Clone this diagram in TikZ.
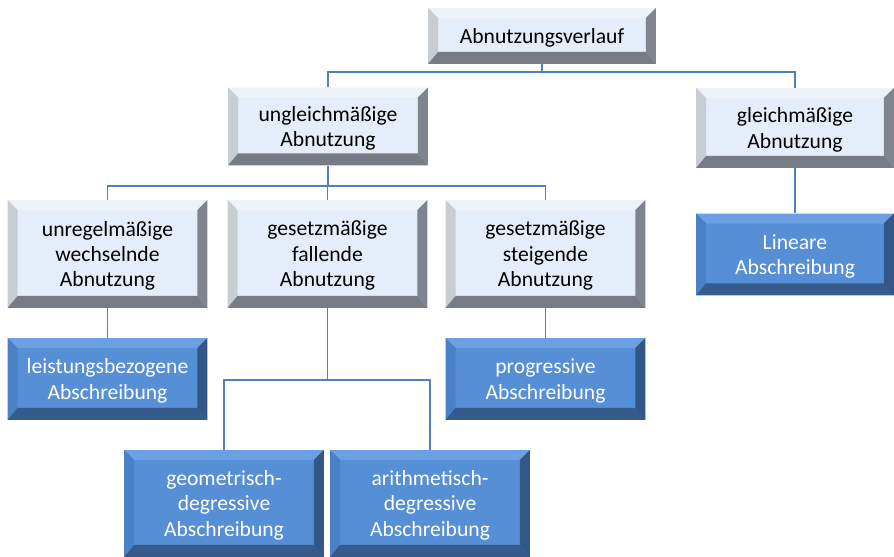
\documentclass[tikz,border=0pt]{standalone}
\usepackage{fontspec}
\setmainfont{Carlito}
\usepackage{xcolor}
\usepackage{tikz}
\definecolor{linkblue}{RGB}{79,129,189}
\definecolor{paleface}{RGB}{228,238,250}
\definecolor{paletop}{RGB}{238,242,247}
\definecolor{paleleft}{RGB}{200,205,212}
\definecolor{paleright}{RGB}{128,132,142}
\definecolor{palebottom}{RGB}{118,123,133}
\definecolor{deepface}{RGB}{86,143,214}
\definecolor{deeptop}{RGB}{108,160,226}
\definecolor{deepleft}{RGB}{74,128,198}
\definecolor{deepright}{RGB}{50,86,136}
\definecolor{deepbottom}{RGB}{54,90,140}
\def\bevw{0.2cm}
\def\bevb{0.24cm}
% bevel frame: top, left, right, bottom
\newcommand{\bevelframe}[4]{%
  \fill[#1] (path picture bounding box.north west) -- (path picture bounding box.north east)
    -- ([shift={(-\bevw,-\bevw)}]path picture bounding box.north east)
    -- ([shift={(\bevw,-\bevw)}]path picture bounding box.north west) -- cycle;
  \fill[#2] (path picture bounding box.north west) -- ([shift={(\bevw,-\bevw)}]path picture bounding box.north west)
    -- ([shift={(\bevw,\bevb)}]path picture bounding box.south west)
    -- (path picture bounding box.south west) -- cycle;
  \fill[#3] (path picture bounding box.north east) -- ([shift={(-\bevw,-\bevw)}]path picture bounding box.north east)
    -- ([shift={(-\bevw,\bevb)}]path picture bounding box.south east)
    -- (path picture bounding box.south east) -- cycle;
  \fill[#4] (path picture bounding box.south west) -- ([shift={(\bevw,\bevb)}]path picture bounding box.south west)
    -- ([shift={(-\bevw,\bevb)}]path picture bounding box.south east)
    -- (path picture bounding box.south east) -- cycle;
}

\begin{document}
\begin{tikzpicture}[x=0.02cm, y=-0.02cm,
  every node/.style={font=\fontsize{12.3}{14.5}\selectfont, align=center, inner sep=0pt, text depth=0pt},
  palebox/.style={fill=paleface, text=black, path picture={\bevelframe{paletop}{paleleft}{paleright}{palebottom}}},
  deepbox/.style={fill=deepface, text=white, path picture={\bevelframe{deeptop}{deepleft}{deepright}{deepbottom}}},
  conn/.style={draw=linkblue, line width=1.1pt}]
\useasboundingbox (0,0) rectangle (894,557);

% level 1 and 2
\node[palebox, minimum width=4.56cm, minimum height=1.12cm] (verlauf) at (542,36) {Abnutzungsverlauf};
\node[palebox, minimum width=4cm, minimum height=1.56cm] (ungleich) at (328,126.5) {ungleichmäßige\\Abnutzung};
\node[palebox, minimum width=3.96cm, minimum height=1.6cm] (gleich) at (795,128) {gleichmäßige\\Abnutzung};

% level 3
\node[palebox, minimum width=4cm, minimum height=2.16cm] (unregel) at (107.5,254) {unregelmäßige\\wechselnde\\Abnutzung};
\node[palebox, minimum width=4cm, minimum height=2.16cm] (fallend) at (327.5,254) {gesetzmäßige\\fallende\\Abnutzung};
\node[palebox, minimum width=4cm, minimum height=2.16cm] (steigend) at (545.5,254) {gesetzmäßige\\steigende\\Abnutzung};
\node[deepbox, minimum width=3.96cm, minimum height=1.64cm] (linear) at (795,254.5) {Lineare\\Abschreibung};

% methods
\node[deepbox, minimum width=4cm, minimum height=1.64cm] (leistung) at (107.5,379) {leistungsbezogene\\Abschreibung};
\node[deepbox, minimum width=4cm, minimum height=1.64cm] (progressiv) at (545.5,379) {progressive\\Abschreibung};
\node[deepbox, minimum width=4cm, minimum height=2.14cm] (geometr) at (224,503.5) {geometrisch-\\degressive\\Abschreibung};
\node[deepbox, minimum width=4cm, minimum height=2.14cm] (arithm) at (430,503.5) {arithmetisch-\\degressive\\Abschreibung};

% connectors
\draw[conn] (verlauf.south) -- ++(0,8) -| (ungleich.north);
\draw[conn] (verlauf.south) -- ++(0,8) -| (gleich.north);
\draw[conn] (ungleich.south) -- ++(0,20) -| (unregel.north);
\draw[conn] (ungleich.south) -- ++(0,20) -| (fallend.north);
\draw[conn] (ungleich.south) -- ++(0,20) -| (steigend.north);
\draw[conn] (gleich.south) -- (linear.north);
\draw[conn] (unregel.south) -- (leistung.north);
\draw[conn] (steigend.south) -- (progressiv.north);
\draw[conn] (fallend.south) -- ++(0,72) -| (geometr.north);
\draw[conn] (fallend.south) -- ++(0,72) -| (arithm.north);
\end{tikzpicture}
\end{document}
